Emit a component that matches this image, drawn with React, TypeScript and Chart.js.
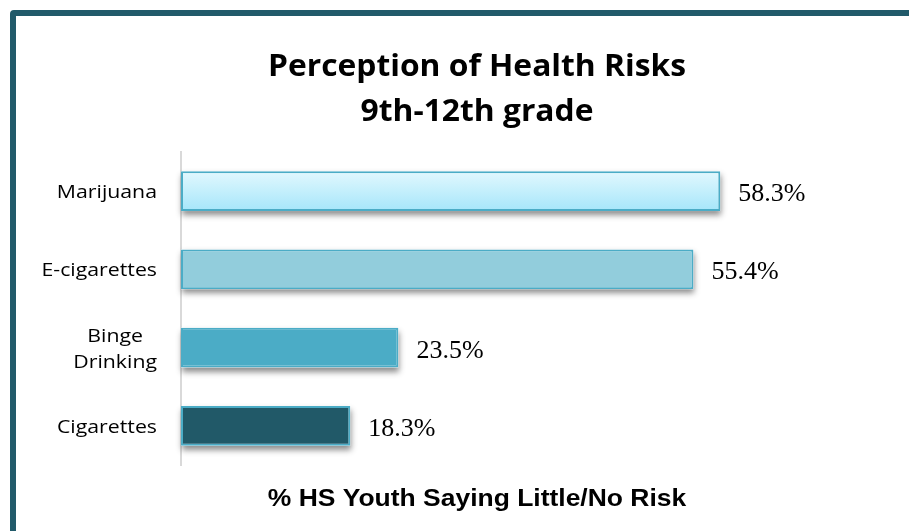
import React, { useEffect, useRef } from "react";
import { Chart, registerables } from "chart.js";

Chart.register(...registerables);

const categories: (string | string[])[] = ["Marijuana", "E-cigarettes", ["Binge", "Drinking"], "Cigarettes"];
const values: number[] = [58.3, 55.4, 23.5, 18.3];
const valueLabels: string[] = ["58.3%", "55.4%", "23.5%", "18.3%"];
const titleLines: string[] = ["Perception of Health Risks", "9th-12th grade"];
const xAxisTitle = "% HS Youth Saying Little/No Risk";
const barColors: string[] = ["gradient", "#92cddc", "#4bacc6", "#215968"];

function drawStretched(ctx: any, text: string, x: number, y: number, sx: number, align: string) {
  ctx.save();
  ctx.translate(x, y);
  ctx.scale(sx, 1);
  ctx.textAlign = align;
  ctx.fillText(text, 0, 0);
  ctx.restore();
}

const shadowPlugin = {
  id: "barShadow",
  beforeDatasetsDraw(chart: any) {
    const ctx = chart.ctx;
    const meta = chart.getDatasetMeta(0);
    ctx.save();
    ctx.shadowColor = "rgba(0,0,0,0.45)";
    ctx.shadowBlur = 6;
    ctx.shadowOffsetX = 1;
    ctx.shadowOffsetY = 4;
    ctx.fillStyle = "#ffffff";
    meta.data.forEach((el: any) => {
      const left = Math.min(el.base, el.x);
      const w = Math.abs(el.x - el.base);
      const top = el.y - el.height / 2;
      ctx.fillRect(left, top, w, el.height);
    });
    ctx.restore();
  },
};

const labelsPlugin = {
  id: "valueLabels",
  afterDatasetsDraw(chart: any) {
    const ctx = chart.ctx;
    const meta = chart.getDatasetMeta(0);
    ctx.save();
    ctx.font = '26px "Liberation Serif", serif';
    ctx.fillStyle = "#000000";
    ctx.textAlign = "left";
    ctx.textBaseline = "alphabetic";
    meta.data.forEach((el: any, i: number) => {
      ctx.fillText(valueLabels[i], el.x + 18, el.y + 10);
    });
    ctx.restore();
  },
};

const categoryLabelsPlugin = {
  id: "categoryLabels",
  afterDraw(chart: any) {
    const ctx = chart.ctx;
    const ys = chart.scales.y;
    const rightEdge = chart.chartArea.left - 24;
    const sx = 1.12;
    const lineH = 26;
    ctx.save();
    ctx.font = '19px "Open Sans", Lato, sans-serif';
    ctx.fillStyle = "#000000";
    ctx.textBaseline = "alphabetic";
    categories.forEach((lab, i) => {
      const lines = Array.isArray(lab) ? lab : [lab];
      const yc = ys.getPixelForValue(i);
      const widths = lines.map((l) => ctx.measureText(l).width * sx);
      const blockW = Math.max(...widths);
      const cx = rightEdge - blockW / 2;
      lines.forEach((l, j) => {
        const y = yc + 7 + (j - (lines.length - 1) / 2) * lineH;
        drawStretched(ctx, l, cx, y, sx, "center");
      });
    });
    ctx.restore();
  },
};

const titlePlugin = {
  id: "centerTitle",
  afterDraw(chart: any) {
    const ctx = chart.ctx;
    const ca = chart.chartArea;
    const cx = (ca.left + ca.right) / 2;
    ctx.save();
    ctx.fillStyle = "#000000";
    ctx.textBaseline = "alphabetic";
    ctx.font = 'bold 30px "Open Sans", Lato, sans-serif';
    drawStretched(ctx, titleLines[0], cx, ca.top - 76, 1.06, "center");
    drawStretched(ctx, titleLines[1], cx, ca.top - 31, 1.06, "center");
    ctx.font = 'bold 23px "Liberation Sans", Arial, sans-serif';
    drawStretched(ctx, xAxisTitle, cx, ca.bottom + 41, 1.15, "center");
    ctx.restore();
  },
};

export default function App() {
  const canvasRef = useRef<HTMLCanvasElement | null>(null);

  useEffect(() => {
    if (!canvasRef.current) return;
    const chart = new Chart(canvasRef.current, {
      type: "bar",
      data: {
        labels: categories as any,
        datasets: [
          {
            data: values,
            backgroundColor: (c: any) => {
              const col = barColors[c.dataIndex];
              if (col !== "gradient") return col;
              const chartObj = c.chart;
              const ys = chartObj.scales && chartObj.scales.y;
              if (!ys) return "#c4effc";
              const yc = ys.getPixelForValue(c.dataIndex);
              if (!isFinite(yc)) return "#c4effc";
              const g = chartObj.ctx.createLinearGradient(0, yc - 20, 0, yc + 20);
              g.addColorStop(0, "#e2f8fe");
              g.addColorStop(1, "#a6e6fa");
              return g;
            },
            borderColor: "#4bacc6",
            borderWidth: 2,
            borderSkipped: false,
            categoryPercentage: 1,
            barPercentage: 0.51,
          },
        ],
      },
      options: {
        indexAxis: "y",
        responsive: true,
        maintainAspectRatio: false,
        animation: false,
        layout: { padding: { top: 152, right: 136, bottom: 66, left: 0 } },
        plugins: {
          legend: { display: false },
          tooltip: { enabled: false },
          title: { display: false },
        },
        scales: {
          x: {
            type: "linear",
            min: 0,
            max: 64,
            display: false,
          },
          y: {
            type: "category",
            grid: { display: false, drawTicks: false },
            border: { display: true, color: "#d9d9d9", width: 2 },
            ticks: { display: false },
            afterFit: (s: any) => {
              s.width = 181;
            },
          },
        },
      },
      plugins: [shadowPlugin, labelsPlugin, categoryLabelsPlugin, titlePlugin],
    });
    return () => chart.destroy();
  }, []);

  return (
    <div
      style={{
        position: "fixed",
        left: 0,
        top: 0,
        width: 909,
        height: 531,
        overflow: "hidden",
        background: "#ffffff",
      }}
    >
      <div
        style={{
          position: "absolute",
          left: 10,
          top: 10,
          width: 1000,
          height: 700,
          border: "6px solid #215a6a",
          borderRadius: 4,
          boxSizing: "border-box",
        }}
      />
      <div style={{ position: "absolute", left: 0, top: 0, width: 909, height: 531 }}>
        <canvas ref={canvasRef} />
      </div>
    </div>
  );
}
